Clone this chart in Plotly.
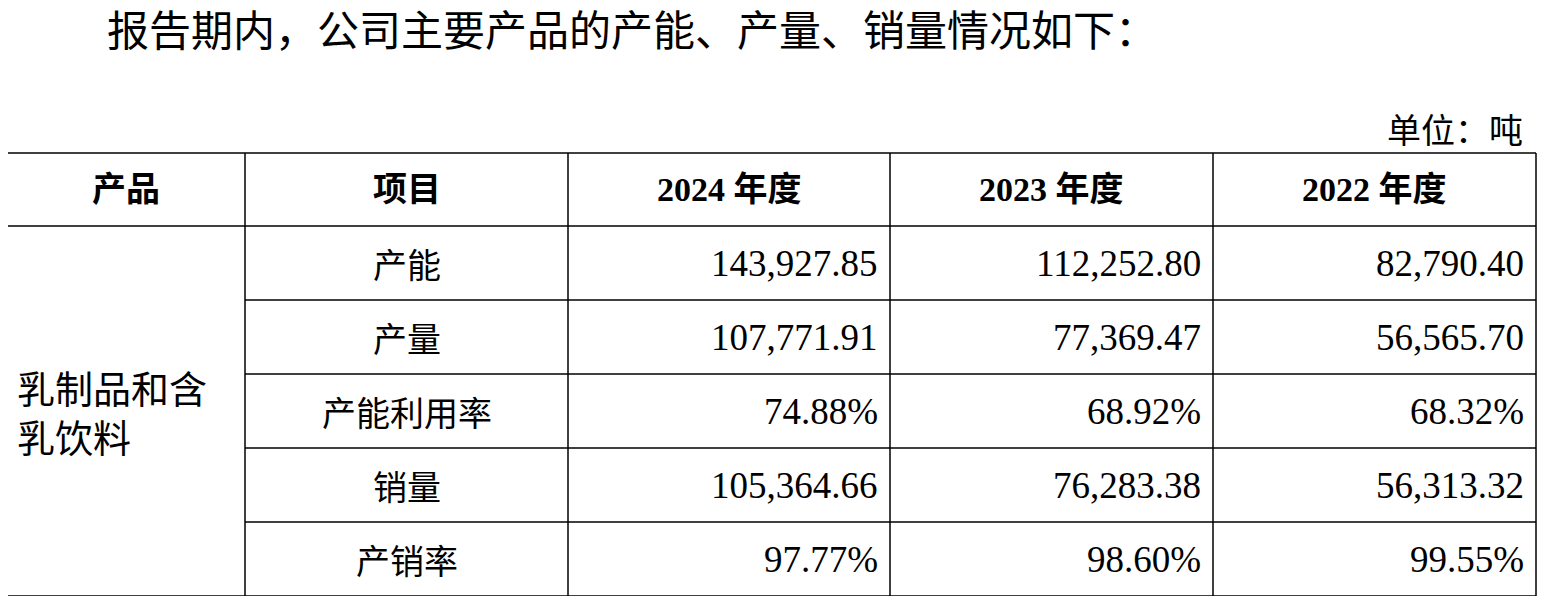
import plotly.graph_objects as go

title = "报告期内，公司主要产品的产能、产量、销量情况如下："
unit = "单位：吨"
headers = ["产品", "项目", "2024 年度", "2023 年度", "2022 年度"]
product = "乳制品和含<br>乳饮料"
items = ["产能", "产量", "产能利用率", "销量", "产销率"]
y2024 = ["143,927.85", "107,771.91", "74.88%", "105,364.66", "97.77%"]
y2023 = ["112,252.80", "77,369.47", "68.92%", "76,283.38", "98.60%"]
y2022 = ["82,790.40", "56,565.70", "68.32%", "56,313.32", "99.55%"]

W, H = 1546, 604
M = 8  # body margin of the page
cols = [7, 245, 568, 890, 1213, 1536]
rows = [153, 226, 300, 374, 448, 522, 596]
serif = "Liberation Serif, Noto Sans CJK SC"
cjk = "Noto Sans CJK SC"

fig = go.Figure()
shapes = []
line = dict(color="black", width=1.5)
for i, y in enumerate(rows):
    x0 = cols[0] if i in (0, 1, len(rows) - 1) else cols[1]
    shapes.append(dict(type="line", x0=x0, x1=cols[-1], y0=y, y1=y, line=line))
for x in cols:
    shapes.append(dict(type="line", x0=x, x1=x, y0=rows[0], y1=rows[-1], line=line))

ann = []
ann.append(dict(x=105, y=27, text=title, xanchor="left", yanchor="middle",
                font=dict(family=cjk, size=42, color="black")))
ann.append(dict(x=1525, y=128, text=unit, xanchor="right", yanchor="middle",
                font=dict(family=cjk, size=34, color="black")))
for j, h in enumerate(headers):
    ann.append(dict(x=(cols[j] + cols[j + 1]) / 2, y=(rows[0] + rows[1]) / 2, text="<b>" + h + "</b>",
                    xanchor="center", yanchor="middle", font=dict(family=serif, size=34, color="black")))
ann.append(dict(x=15, y=(rows[1] + rows[-1]) / 2, text=product, xanchor="left", yanchor="middle", align="left",
                font=dict(family=cjk, size=38, color="black")))
for i, it in enumerate(items):
    yc = (rows[i + 1] + rows[i + 2]) / 2
    ann.append(dict(x=(cols[1] + cols[2]) / 2, y=yc, text=it, xanchor="center", yanchor="middle",
                    font=dict(family=cjk, size=34, color="black")))
    for k, arr in enumerate([y2024, y2023, y2022]):
        ann.append(dict(x=cols[k + 3] - 10, y=yc, text=arr[i], xanchor="right", yanchor="middle",
                        font=dict(family=serif, size=37, color="black")))
for a in ann:
    a.update(xref="x", yref="y", showarrow=False)

fig.update_layout(width=W - 2 * M, height=H - 2 * M, margin=dict(l=0, r=0, t=0, b=0),
                  plot_bgcolor="white", paper_bgcolor="white", shapes=shapes, annotations=ann,
                  xaxis=dict(range=[M, W - M], visible=False, fixedrange=True),
                  yaxis=dict(range=[H - M, M], visible=False, fixedrange=True), showlegend=False)
fig.write_html("out.html", config={"displayModeBar": False})
